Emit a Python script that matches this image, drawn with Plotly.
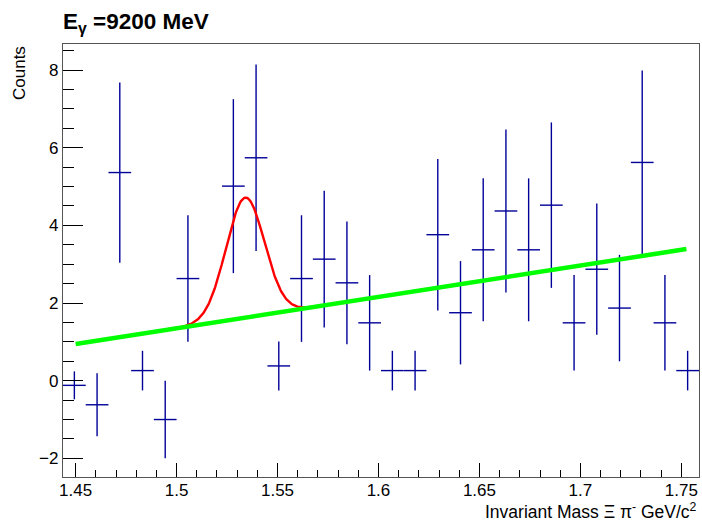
import numpy as np
import plotly.graph_objects as go

# Invariant mass spectrum (bin centres, counts, errors)
bin_width = 0.01125
mass = [1.449375, 1.460625, 1.471875, 1.483125, 1.494375, 1.505625,
        1.528125, 1.539375, 1.550625, 1.561875, 1.573125, 1.584375,
        1.595625, 1.606875, 1.618125, 1.629375, 1.640625, 1.651875,
        1.663125, 1.674375, 1.685625, 1.696875, 1.708125, 1.719375,
        1.730625, 1.741875, 1.753125]
counts = [-0.12, -0.62, 5.36, 0.26, -1.00, 2.63,
          5.01, 5.74, 0.38, 2.63, 3.13, 2.52,
          1.49, 0.26, 0.26, 3.76, 1.75, 3.37,
          4.37, 3.37, 4.52, 1.49, 2.87, 1.87,
          5.62, 1.49, 0.26]
errors = [0.36, 0.81, 2.32, 0.51, 1.00, 1.63,
          2.24, 2.40, 0.63, 1.63, 1.76, 1.58,
          1.23, 0.51, 0.51, 1.95, 1.33, 1.84,
          2.10, 1.84, 2.13, 1.23, 1.69, 1.37,
          2.37, 1.23, 0.51]

# Fit parameters: gaussian peak on a linear background
gaus_amp, gaus_mean, gaus_sigma = 3.09, 1.534, 0.0095
bkg_p0, bkg_p1 = 0.945, 8.08   # bkg = p0 + p1*(m - 1.45)
fit_range = (1.48, 1.595)
bkg_range = (1.45, 1.7525)

def background(m):
    return bkg_p0 + bkg_p1 * (m - 1.45)

def total(m):
    return background(m) + gaus_amp * np.exp(-0.5 * ((m - gaus_mean) / gaus_sigma) ** 2)

m_fit = np.linspace(*fit_range, 300)
m_bkg = np.linspace(*bkg_range, 50)

font = "Liberation Sans, Arial, Helvetica, sans-serif"
blue = "#000099"

fig = go.Figure()
fig.add_trace(go.Scatter(
    x=mass, y=counts, mode="markers",
    marker=dict(size=2, color=blue, opacity=0),
    error_x=dict(type="constant", value=bin_width / 2, width=0, color=blue, thickness=1.4),
    error_y=dict(type="data", array=errors, width=0, color=blue, thickness=1.4),
    showlegend=False, hoverinfo="x+y"))
fig.add_trace(go.Scatter(
    x=m_fit, y=total(m_fit), mode="lines",
    line=dict(color="#ff0000", width=2.4), showlegend=False))
fig.add_trace(go.Scatter(
    x=m_bkg, y=background(m_bkg), mode="lines",
    line=dict(color="#00ff00", width=4.5), showlegend=False))

axis_common = dict(
    showline=True, mirror=True, linecolor="#555555", linewidth=1.2,
    showgrid=False, zeroline=False, ticks="inside", tickcolor="#000000",
    tickfont=dict(family=font, size=17, color="#000000"),
)
fig.update_xaxes(range=[1.44375, 1.75875], dtick=0.05, tick0=1.45, ticklen=14,
                 tickformat="~g", ticklabelstandoff=-3,
                 minor=dict(dtick=0.01, tick0=1.45, ticklen=7, ticks="inside",
                            tickcolor="#000000", showgrid=False),
                 **axis_common)
fig.update_yaxes(range=[-2.48, 8.67], dtick=2, tick0=0, ticklen=20,
                 minor=dict(dtick=0.5, tick0=0, ticklen=11, ticks="inside",
                            tickcolor="#000000", showgrid=False),
                 **axis_common)

fig.update_layout(
    width=702, height=525,
    margin=dict(l=63, r=3, t=44, b=48),
    paper_bgcolor="white", plot_bgcolor="white",
    title=dict(text="<b>E<sub>γ</sub> =9200 MeV</b>", xref="container", yref="container",
               x=63 / 702, xanchor="left", y=1 - 21 / 525, yanchor="middle",
               font=dict(family=font, size=22.5, color="#000000")),
    annotations=[
        dict(text="Counts", textangle=-90, xref="paper", yref="paper",
             x=(19 - 63) / 636, y=1.0, xanchor="center", yanchor="top", showarrow=False,
             font=dict(family=font, size=17, color="#000000")),
        dict(text="Invariant Mass Ξ π<sup>-</sup> GeV/c<sup>2</sup>", xref="paper", yref="paper",
             x=1.0, y=(477 - 511) / 433, xanchor="right", yanchor="middle", showarrow=False,
             font=dict(family=font, size=17.5, color="#000000")),
    ],
)

fig.write_html("out.html")
